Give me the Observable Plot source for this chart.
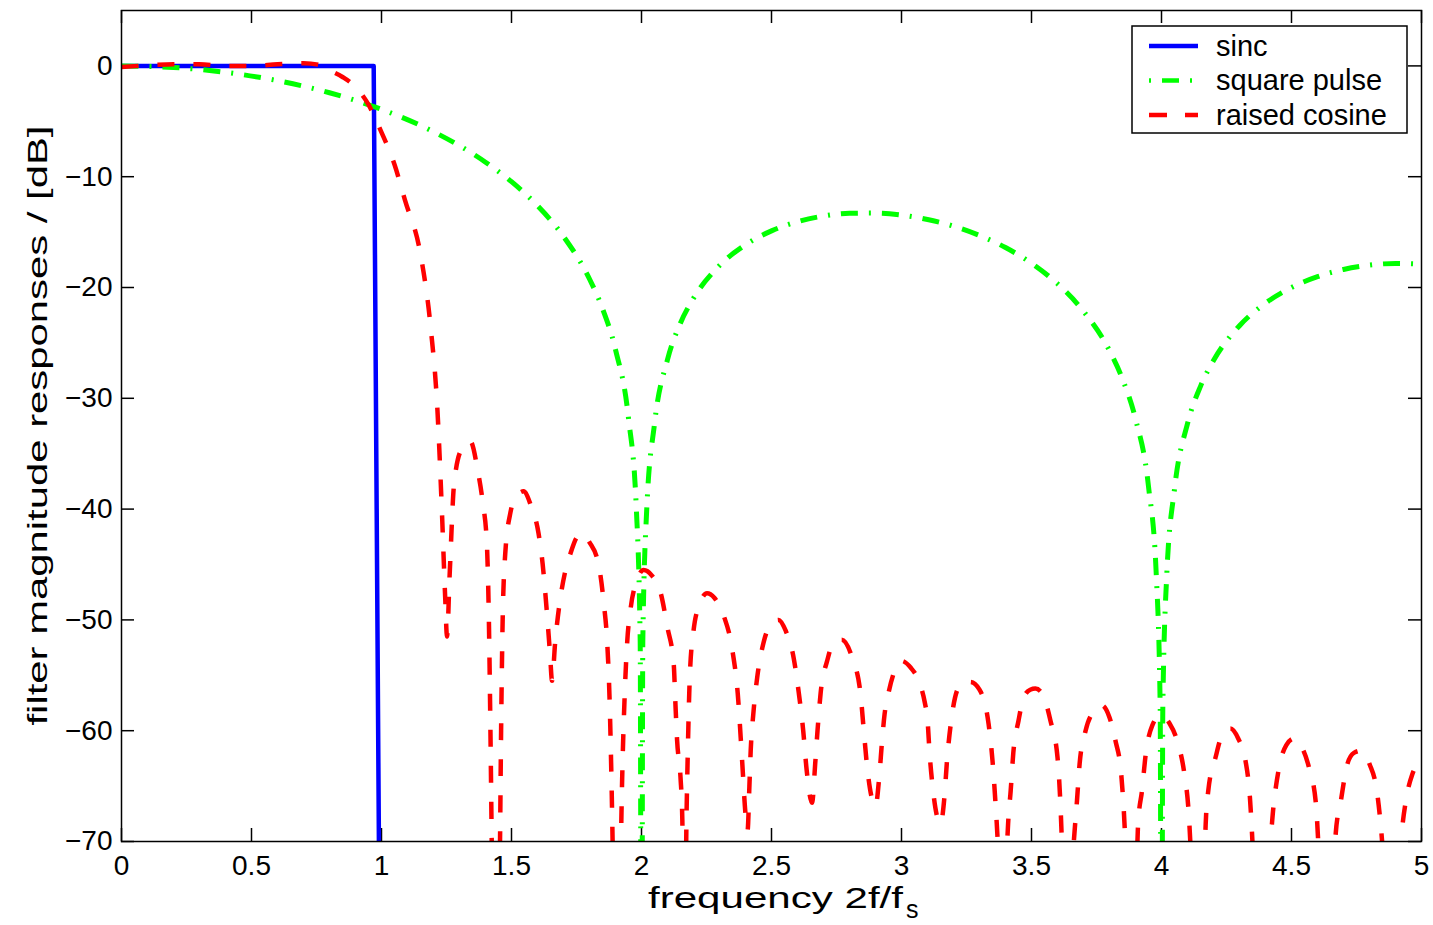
<!DOCTYPE html>
<html><head><meta charset="utf-8">
<script src="https://cdn.jsdelivr.net/npm/d3@7"></script>
<script src="https://cdn.jsdelivr.net/npm/@observablehq/plot@0.6"></script>
<style>body{margin:0;background:#fff;}</style>
</head><body><div id="chart"></div>
<script>
// ---- data ----
const xTicks = [0, 0.5, 1, 1.5, 2, 2.5, 3, 3.5, 4, 4.5, 5];
const xTickLabels = ["0", "0.5", "1", "1.5", "2", "2.5", "3", "3.5", "4", "4.5", "5"];
const yTicks = [0, -10, -20, -30, -40, -50, -60, -70];

const seriesNames = ["sinc", "square pulse", "raised cosine"];

const sincFreq = [0, 0.97, 0.99];
const sincDb = [0, 0, -70];

const squareFreq = [0, 0.2, 0.4, 0.6, 0.8, 1.0, 1.2, 1.4, 1.5, 1.6, 1.7, 1.8, 1.85, 1.9, 1.95, 1.98, 1.995, 2.0, 2.005, 2.02, 2.05, 2.1, 2.15, 2.2, 2.3, 2.4, 2.5, 2.6, 2.7, 2.8, 2.9, 3.0, 3.1, 3.2, 3.3, 3.4, 3.5, 3.6, 3.7, 3.8, 3.85, 3.9, 3.95, 3.98, 3.995, 4.0, 4.005, 4.02, 4.05, 4.1, 4.15, 4.2, 4.3, 4.4, 4.5, 4.6, 4.7, 4.8, 4.9, 5.0];
const squareDb = [0, -0.14, -0.58, -1.33, -2.42, -3.92, -5.94, -8.69, -10.45, -12.62, -15.39, -19.23, -21.9, -25.6, -31.8, -39.9, -52, -100, -52, -40.1, -32.3, -26.5, -23.2, -20.97, -18.02, -16.14, -14.89, -14.06, -13.55, -13.3, -13.28, -13.46, -13.86, -14.46, -15.3, -16.39, -17.81, -19.66, -22.15, -25.7, -28.27, -31.86, -37.96, -45.98, -58, -100, -58, -46.07, -38.2, -32.29, -28.92, -26.59, -23.45, -21.41, -20.0, -19.02, -18.37, -17.98, -17.83, -17.9];

const rcFreq = [0, 0.1, 0.2, 0.3, 0.4, 0.5, 0.6, 0.7, 0.76, 0.8, 0.85, 0.9, 0.95, 1.0, 1.05, 1.09, 1.15, 1.19, 1.215, 1.232, 1.245, 1.252, 1.262, 1.28, 1.31, 1.342, 1.37, 1.39, 1.405, 1.413, 1.419, 1.425, 1.44, 1.455, 1.46, 1.466, 1.476, 1.496, 1.52, 1.546, 1.575, 1.604, 1.62, 1.635, 1.648, 1.656, 1.668, 1.685, 1.705, 1.727, 1.75, 1.772, 1.8, 1.835, 1.855, 1.868, 1.877, 1.885, 1.892, 1.905, 1.918, 1.925, 1.935, 1.945, 1.958, 1.983, 2.008, 2.04, 2.073, 2.1, 2.124, 2.13, 2.137, 2.15, 2.157, 2.165, 2.173, 2.178, 2.186, 2.2, 2.225, 2.252, 2.28, 2.316, 2.35, 2.37, 2.387, 2.4, 2.408, 2.415, 2.42, 2.43, 2.445, 2.47, 2.5, 2.527, 2.555, 2.585, 2.605, 2.622, 2.635, 2.656, 2.668, 2.677, 2.689, 2.714, 2.74, 2.77, 2.81, 2.842, 2.855, 2.868, 2.885, 2.9, 2.915, 2.925, 2.935, 2.95, 2.975, 3.0, 3.035, 3.066, 3.09, 3.1, 3.108, 3.12, 3.15, 3.165, 3.175, 3.19, 3.215, 3.24, 3.265, 3.3, 3.335, 3.35, 3.36, 3.372, 3.39, 3.405, 3.41, 3.42, 3.43, 3.45, 3.47, 3.495, 3.515, 3.54, 3.573, 3.6, 3.61, 3.62, 3.64, 3.66, 3.665, 3.675, 3.685, 3.708, 3.74, 3.77, 3.8, 3.823, 3.845, 3.855, 3.865, 3.89, 3.905, 3.91, 3.925, 3.94, 3.965, 3.996, 4.03, 4.06, 4.088, 4.104, 4.115, 4.14, 4.165, 4.17, 4.18, 4.208, 4.235, 4.265, 4.295, 4.323, 4.34, 4.352, 4.38, 4.41, 4.42, 4.43, 4.45, 4.48, 4.51, 4.54, 4.567, 4.594, 4.605, 4.635, 4.665, 4.67, 4.69, 4.715, 4.74, 4.77, 4.8, 4.83, 4.845, 4.855, 4.885, 4.915, 4.925, 4.94, 4.965, 4.99, 5.0];
const rcDb = [-0.1, 0.05, 0.15, 0.15, 0.0, 0.0, 0.15, 0.25, 0.1, -0.4, -1.0, -1.9, -3.5, -6.0, -8.9, -12.1, -17.0, -23.8, -31, -40, -48, -51.5, -46, -37.5, -34.5, -33.9, -36.5, -39.5, -43, -50, -60, -72, -88, -72, -60, -50, -44, -40.3, -38.8, -38.4, -39.7, -42.2, -45, -49, -53, -55.5, -52, -48.5, -45.8, -44, -42.6, -42.2, -43, -45, -48.5, -52, -57, -65, -74, -88, -74, -65, -57, -52, -49, -46.4, -45.5, -46, -47.5, -50.7, -54, -57.3, -60.9, -64.2, -68, -85, -68, -62, -55, -51, -48.5, -47.6, -48, -49.6, -52.8, -56.6, -62.7, -67.5, -69, -65, -61.8, -58.5, -55.2, -52, -50.3, -50, -51, -53.4, -56.6, -60, -63.5, -66.5, -63, -60, -56.6, -53.7, -52, -51.8, -53.4, -56.6, -60, -63.3, -66, -66.8, -64, -61, -58.5, -56.6, -54.5, -53.7, -54.3, -55.5, -57.5, -59, -62, -65.1, -68.4, -66, -62.7, -59.3, -56.3, -55.6, -55.6, -56.3, -59.4, -62.7, -66, -71, -85, -71, -68.4, -65.4, -62, -59.1, -57, -56.3, -56.2, -56.6, -59.1, -62.4, -66, -72, -85, -71, -69.3, -66.3, -63, -60, -58.2, -57.7, -58.8, -60.9, -63.9, -67.2, -72, -85, -72, -68.4, -65.4, -62, -59.5, -58.6, -59.3, -60.9, -63.9, -67.2, -72, -85, -72, -68.4, -65.4, -62.4, -60.3, -59.8, -60.7, -62.7, -66, -71, -85, -71, -69.6, -67, -63.6, -61.3, -60.7, -61.5, -63.3, -66.6, -71, -85, -71, -69.3, -66.3, -63, -62, -61.8, -63, -65.7, -69, -72, -85, -72, -69, -66.3, -63.9, -62.9, -62.6];

// ---- tables ----
const toRows = (fs, ds) => fs.map((f, i) => ({f, db: ds[i]}));
const sincRows = toRows(sincFreq, sincDb);
const squareRows = toRows(squareFreq, squareDb);
const rcRows = toRows(rcFreq, rcDb);

const W = 1433, H = 925, mL = 121, mR = 12, mT = 10, mB = 84;
const plotW = W - mL - mR, plotH = H - mT - mB, tickLen = 13;

const chart = Plot.plot({
  width: W, height: H,
  marginLeft: mL, marginRight: mR, marginTop: mT, marginBottom: mB,
  style: {background: "white", fontFamily: "'Liberation Sans', Arial, sans-serif", fontSize: "28px", color: "black"},
  x: {domain: [0, 5]},
  y: {domain: [-70, 5]},
  marks: [
    Plot.axisX({ticks: xTicks, tickFormat: d => xTickLabels[xTicks.indexOf(d)], tickSize: 0, tickPadding: 14, label: null}),
    Plot.axisY({ticks: yTicks, tickSize: 0, tickPadding: 9, label: null}),
    Plot.tickX(xTicks, {x: d => d, insetTop: plotH - tickLen, stroke: "black", strokeWidth: 1.5}),
    Plot.tickX(xTicks, {x: d => d, insetBottom: plotH - tickLen, stroke: "black", strokeWidth: 1.5}),
    Plot.tickY(yTicks, {y: d => d, insetRight: plotW - tickLen, stroke: "black", strokeWidth: 1.5}),
    Plot.tickY(yTicks, {y: d => d, insetLeft: plotW - tickLen, stroke: "black", strokeWidth: 1.5}),
    Plot.line(sincRows, {x: "f", y: "db", stroke: "#0000ff", strokeWidth: 4.5, clip: true}),
    Plot.line(squareRows, {x: "f", y: "db", stroke: "#00ff00", strokeWidth: 5, strokeDasharray: "17,11,2,11", strokeLinecap: "butt", curve: "monotone-x", clip: true}),
    Plot.line(rcRows, {x: "f", y: "db", stroke: "#ff0000", strokeWidth: 4.5, strokeDasharray: "17,19", strokeLinecap: "butt", curve: "monotone-x", clip: true}),
    Plot.frame({stroke: "black", strokeWidth: 1.5})
  ]
});
document.getElementById("chart").appendChild(chart);

// ---- axis labels and legend ----
const svg = d3.select(chart);
const ff = "'Liberation Sans', Arial, sans-serif";
svg.append("text")
  .attr("transform", `translate(47,${mT + plotH / 2}) rotate(-90)`)
  .attr("text-anchor", "middle").attr("font-family", ff).attr("font-size", 28)
  .attr("textLength", 600).attr("lengthAdjust", "spacingAndGlyphs").attr("fill", "black")
  .text("filter magnitude responses / [dB]");
svg.append("text")
  .attr("x", 648).attr("y", 908).attr("text-anchor", "start").attr("font-family", ff).attr("font-size", 29)
  .attr("textLength", 255).attr("lengthAdjust", "spacingAndGlyphs").attr("fill", "black")
  .text("frequency 2f/f");
svg.append("text")
  .attr("x", 906).attr("y", 918).attr("text-anchor", "start").attr("font-family", ff).attr("font-size", 25).attr("fill", "black")
  .text("s");

const lg = svg.append("g");
lg.append("rect").attr("x", 1132).attr("y", 26).attr("width", 275).attr("height", 107)
  .attr("fill", "white").attr("stroke", "black").attr("stroke-width", 1.5);
const legendStyles = [
  {color: "#0000ff", dash: null},
  {color: "#00ff00", dash: "2,11,17,11"},
  {color: "#ff0000", dash: "18,18"}
];
const rowsY = [46, 80.5, 115];
seriesNames.forEach((name, i) => {
  const l = lg.append("line").attr("x1", 1149).attr("x2", 1198).attr("y1", rowsY[i]).attr("y2", rowsY[i])
    .attr("stroke", legendStyles[i].color).attr("stroke-width", 4.5);
  if (legendStyles[i].dash) l.attr("stroke-dasharray", legendStyles[i].dash);
  lg.append("text").attr("x", 1216).attr("y", rowsY[i] + 9.5).attr("text-anchor", "start").attr("font-family", ff)
    .attr("font-size", 29).attr("fill", "black").text(name);
});
</script></body></html>
